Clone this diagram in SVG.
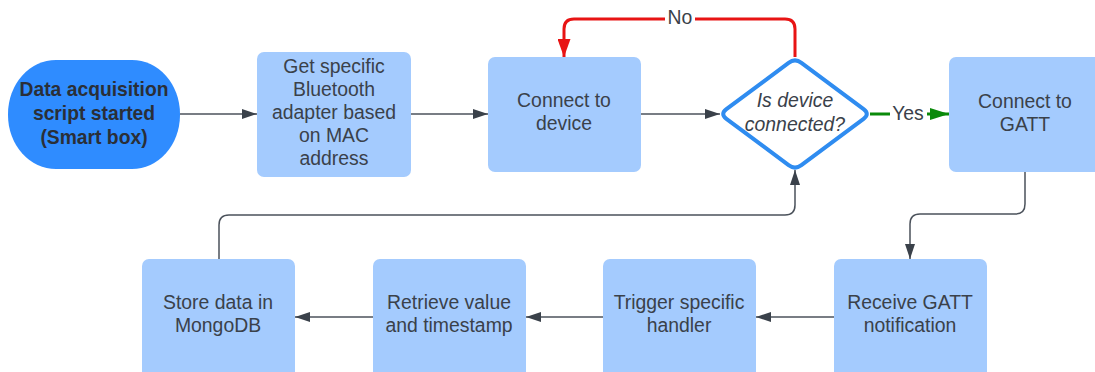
<svg xmlns="http://www.w3.org/2000/svg" width="1095" height="372" viewBox="0 0 1095 372">
  <style>
    .box { fill: #a4cbfe; }
    .start { fill: #2f8cff; }
    .lbl { font-family: "Liberation Sans", Arial, sans-serif; font-size: 19.4px; fill: #3a414a; text-anchor: middle; dominant-baseline: central; }
    .bold { font-weight: bold; font-size: 19.3px; fill: #2a2f37; }
    .ital { font-style: italic; }
    .wire { fill: none; stroke: #4b525b; stroke-width: 1.5; }
    .no { fill: none; stroke: #e81414; stroke-width: 3; }
    .yes { fill: none; stroke: #0a8a0a; stroke-width: 3; }
  </style>
  <defs>
    <marker id="arrow" markerUnits="userSpaceOnUse" viewBox="0 0 15 10" markerWidth="15" markerHeight="10" refX="15" refY="5" orient="auto">
      <path d="M0 0 L15 5 L0 10 z" fill="#3a414a"/>
    </marker>
    <marker id="arrowRed" markerUnits="userSpaceOnUse" viewBox="0 0 18 13" markerWidth="18" markerHeight="13" refX="18" refY="6.5" orient="auto">
      <path d="M0 0 L18 6.5 L0 13 z" fill="#e81414"/>
    </marker>
    <marker id="arrowGreen" markerUnits="userSpaceOnUse" viewBox="0 0 19 12" markerWidth="19" markerHeight="12" refX="19" refY="6" orient="auto">
      <path d="M0 0 L19 6 L0 12 z" fill="#0a8a0a"/>
    </marker>
  </defs>

  <rect width="1095" height="372" fill="#ffffff"/>

  <g id="connectors">
    <path class="wire" d="M180 114 H257" marker-end="url(#arrow)"/>
    <path class="wire" d="M411 114 H488" marker-end="url(#arrow)"/>
    <path class="wire" d="M641 114 H720" marker-end="url(#arrow)"/>
    <path class="yes" d="M870 114 H949" marker-end="url(#arrowGreen)"/>
    <path class="no" d="M795 57 V29 Q795 19 785 19 H574 Q564 19 564 29 V57" marker-end="url(#arrowRed)"/>
    <path class="wire" d="M1025 172 V204 Q1025 214 1015 214 H920 Q910 214 910 224 V259" marker-end="url(#arrow)"/>
    <path class="wire" d="M834 317 H756" marker-end="url(#arrow)"/>
    <path class="wire" d="M603 317 H526" marker-end="url(#arrow)"/>
    <path class="wire" d="M373 317 H295" marker-end="url(#arrow)"/>
    <path class="wire" d="M219 259 V225 Q219 215 229 215 H785 Q795 215 795 205 V170" marker-end="url(#arrow)"/>
    <rect x="665" y="7" width="30" height="22" fill="#ffffff"/>
    <text class="lbl" x="680" y="17">No</text>
    <rect x="890" y="103" width="37" height="22" fill="#ffffff"/>
    <text class="lbl" x="908" y="113">Yes</text>
  </g>

  <g id="start">
    <rect class="start" x="8" y="60" width="172" height="109" rx="48" ry="54"/>
    <text class="lbl bold" x="94" y="89">Data acquisition</text>
    <text class="lbl bold" x="94" y="113">script started</text>
    <text class="lbl bold" x="94" y="137">(Smart box)</text>
  </g>

  <g id="get-adapter">
    <rect class="box" x="257" y="52" width="154" height="125" rx="7"/>
    <text class="lbl" x="334" y="66">Get specific</text>
    <text class="lbl" x="334" y="89">Bluetooth</text>
    <text class="lbl" x="334" y="112">adapter based</text>
    <text class="lbl" x="334" y="135">on MAC</text>
    <text class="lbl" x="334" y="158">address</text>
  </g>

  <g id="connect-device">
    <rect class="box" x="488" y="57" width="153" height="115" rx="7"/>
    <text class="lbl" x="564" y="100">Connect to</text>
    <text class="lbl" x="564" y="123">device</text>
  </g>

  <g id="is-connected">
    <path d="M801.4 62.8 L863.6 109.2 Q870 114 863.6 118.8 L801.4 165.2 Q795 170 788.6 165.2 L726.4 118.8 Q720 114 726.4 109.2 L788.6 62.8 Q795 58 801.4 62.8 Z" fill="#ffffff" stroke="#2f8cf0" stroke-width="4" stroke-linejoin="round"/>
    <text class="lbl ital" x="795" y="100">Is device</text>
    <text class="lbl ital" x="795" y="124">connected?</text>
  </g>

  <g id="connect-gatt">
    <rect class="box" x="949" y="57" width="153" height="115" rx="7"/>
    <text class="lbl" x="1025" y="101">Connect to</text>
    <text class="lbl" x="1025" y="124">GATT</text>
  </g>

  <g id="receive-notification">
    <rect class="box" x="834" y="259" width="153" height="120" rx="7"/>
    <text class="lbl" x="910" y="302">Receive GATT</text>
    <text class="lbl" x="910" y="325">notification</text>
  </g>

  <g id="trigger-handler">
    <rect class="box" x="603" y="259" width="153" height="120" rx="7"/>
    <text class="lbl" x="679" y="302">Trigger specific</text>
    <text class="lbl" x="679" y="325">handler</text>
  </g>

  <g id="retrieve-value">
    <rect class="box" x="373" y="259" width="153" height="120" rx="7"/>
    <text class="lbl" x="449" y="302">Retrieve value</text>
    <text class="lbl" x="449" y="325">and timestamp</text>
  </g>

  <g id="store-data">
    <rect class="box" x="142" y="259" width="153" height="120" rx="7"/>
    <text class="lbl" x="218" y="302">Store data in</text>
    <text class="lbl" x="218" y="325">MongoDB</text>
  </g>
</svg>
